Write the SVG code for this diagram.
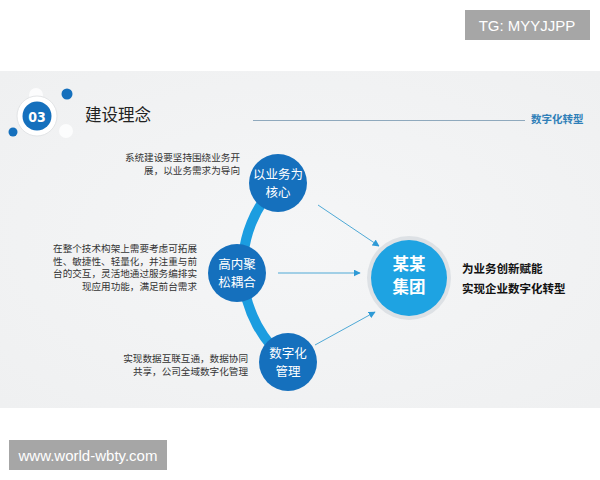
<svg xmlns="http://www.w3.org/2000/svg" width="600" height="480" viewBox="0 0 600 480">
<defs>
<style>
.cjk{font-family:"Noto Sans CJK SC","Noto Sans",sans-serif;}
.desc{font-size:9.6px;fill:#333;text-anchor:end;}
.node{fill:#1570bd;}
.ntxt{font-size:12.5px;fill:#fff;text-anchor:middle;}
.arrow{stroke:#4ea9d6;stroke-width:1;fill:none;marker-end:url(#ah);}
.wm{font-family:"Liberation Sans",Arial,sans-serif;fill:#fff;font-size:15px;}
</style>
<marker id="ah" viewBox="0 0 10 10" refX="9" refY="5" markerWidth="7" markerHeight="7" markerUnits="userSpaceOnUse" orient="auto">
<path d="M0,0 L10,5 L0,10 z" fill="#2e9ad6"/>
</marker>
<radialGradient id="bg" cx="0.5" cy="0.5" r="0.7">
<stop offset="0" stop-color="#f5f6f7"/>
<stop offset="1" stop-color="#eff0f1"/>
</radialGradient>
</defs>
<rect width="600" height="480" fill="#fff"/>
<rect x="0" y="71" width="600" height="337" fill="url(#bg)"/>
<g id="tg"><rect x="465" y="10" width="125" height="30" fill="#a6a6a6"/><text class="wm" x="527" y="31" text-anchor="middle">TG: MYYJJPP</text></g>
<g id="www"><rect x="9" y="440" width="158" height="30" fill="#a6a6a6"/><text class="wm" x="88" y="461" text-anchor="middle">www.world-wbty.com</text></g>
<g id="header">
<circle cx="36" cy="95" r="7" fill="#fff" opacity="0.8"/>
<circle cx="66" cy="131" r="7" fill="#fff" opacity="0.8"/>
<circle cx="37" cy="116" r="20" fill="#fff" stroke="#e2e4e6" stroke-width="1"/>
<circle cx="37" cy="116" r="14.5" fill="#1570bd"/>
<text x="37" y="121.5" text-anchor="middle" font-family="'DejaVu Sans Condensed','DejaVu Sans',sans-serif" font-stretch="condensed" font-weight="bold" font-size="14" fill="#fff">03</text>
<circle cx="67" cy="94" r="5.5" fill="#1570bd"/>
<circle cx="13" cy="132" r="4.5" fill="#1570bd"/>
<text class="cjk" x="85" y="121" font-size="16.5" fill="#222">建设理念</text>
<line x1="253" y1="120.5" x2="525" y2="120.5" stroke="#8fa9bd" stroke-width="1"/>
<text class="cjk" x="531" y="123" font-size="10.5" font-weight="bold" fill="#2f7fb8">数字化转型</text>
</g>
<g id="connectors">
<path d="M278,183 A120,120 0 0 0 288,362" stroke="#1b9de0" stroke-width="10" fill="none"/>
<line class="arrow" x1="318" y1="205" x2="379" y2="246"/>
<line class="arrow" x1="278" y1="273" x2="360" y2="273"/>
<line class="arrow" x1="315" y1="345" x2="375" y2="312"/>
</g>
<g id="n1"><circle class="node" cx="278" cy="183" r="29"/><text class="cjk ntxt" x="278" y="179">以业务为</text><text class="cjk ntxt" x="278" y="197">核心</text></g>
<g id="n2"><circle class="node" cx="237" cy="273" r="29"/><text class="cjk ntxt" x="237" y="269">高内聚</text><text class="cjk ntxt" x="237" y="287">松耦合</text></g>
<g id="n3"><circle class="node" cx="288" cy="362" r="29"/><text class="cjk ntxt" x="288" y="358">数字化</text><text class="cjk ntxt" x="288" y="376">管理</text></g>
<g id="center">
<circle cx="409" cy="278" r="42" fill="#dde1e5"/>
<circle cx="409" cy="278" r="38" fill="#1ea3e2"/>
<text class="cjk" x="409" y="270" text-anchor="middle" font-size="16.5" font-weight="bold" fill="#fff">某某</text>
<text class="cjk" x="409" y="293" text-anchor="middle" font-size="16.5" font-weight="bold" fill="#fff">集团</text>
</g>
<g id="rtext">
<text class="cjk" x="462" y="273" font-size="11.5" font-weight="bold" fill="#111">为业务创新赋能</text>
<text class="cjk" x="462" y="293" font-size="11.5" font-weight="bold" fill="#111">实现企业数字化转型</text>
</g>
<g id="t1">
<text class="cjk desc" x="240" y="161">系统建设要坚持围绕业务开</text>
<text class="cjk desc" x="240" y="174">展，以业务需求为导向</text>
</g>
<g id="t2">
<text class="cjk desc" x="197" y="252">在整个技术构架上需要考虑可拓展</text>
<text class="cjk desc" x="197" y="264.5">性、敏捷性、轻量化，并注重与前</text>
<text class="cjk desc" x="197" y="277">台的交互，灵活地通过服务编排实</text>
<text class="cjk desc" x="197" y="289.5">现应用功能，满足前台需求</text>
</g>
<g id="t3">
<text class="cjk desc" x="248" y="362">实现数据互联互通，数据协同</text>
<text class="cjk desc" x="248" y="375">共享，公司全域数字化管理</text>
</g>
</svg>
